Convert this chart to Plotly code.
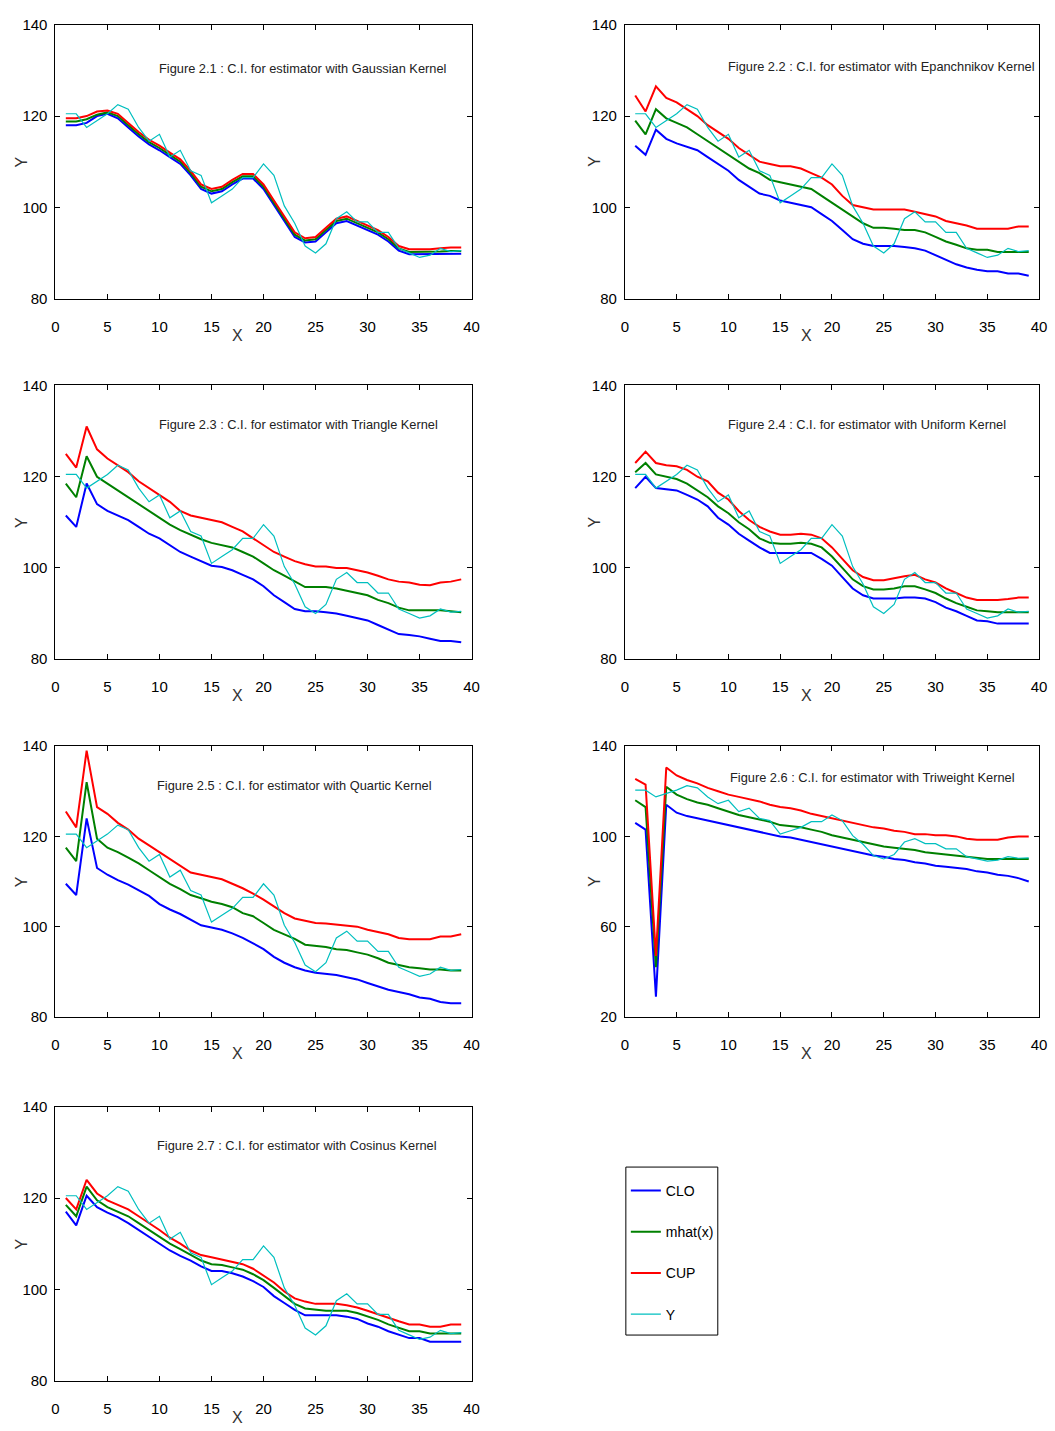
import plotly.graph_objects as go

W, H = 1055, 1431
FONT = "Liberation Sans, Arial, sans-serif"

x = list(range(1, 40))

Y = [120.5, 120.5, 117.5, 119, 120.5, 122.5, 121.5, 117.5, 114.5, 116,
     111, 112.5, 108, 107, 101, 102.5, 104, 106.5, 106.5, 109.5,
     107, 100.3, 96.5, 91.5, 90, 92, 97.5, 99, 96.8, 96.8,
     94.5, 94.5, 91, 90, 89, 89.5, 91, 90.3, 90.5]

gauss_clo = [118, 118, 118.5, 120, 120.5, 119.5, 117.5, 115.5, 113.8, 112.5,
             111, 109.5, 107, 104, 103, 103.5, 105, 106.3, 106.3, 104,
             100.5, 97, 93.5, 92.3, 92.5, 94.5, 96.5, 97, 96, 95,
             94, 92.5, 90.5, 89.7, 89.7, 89.7, 89.8, 89.8, 89.8]
gauss_mhat = [118.8, 118.8, 119.3, 120.3, 120.8, 120, 118, 116, 114.3, 113,
              111.5, 110, 107.5, 104.5, 103.5, 104, 105.5, 106.8, 106.8, 104.5,
              101, 97.5, 94, 92.7, 93, 95, 97, 97.5, 96.5, 95.5,
              94.5, 93, 91, 90.2, 90.2, 90.2, 90.3, 90.4, 90.4]
gauss_cup = [119.5, 119.5, 120, 121, 121.2, 120.5, 118.5, 116.5, 114.8, 113.5,
             112, 110.5, 108, 105, 104, 104.5, 106, 107.3, 107.3, 105,
             101.5, 98, 94.5, 93.2, 93.5, 95.5, 97.5, 98, 97, 96,
             95, 93.5, 91.5, 90.8, 90.8, 90.8, 91, 91.2, 91.2]

epan_clo = [113.5, 111.5, 117, 115, 114, 113.2, 112.5, 111, 109.5, 108,
            106, 104.5, 103, 102.5, 101.5, 101, 100.5, 100, 98.5, 97,
            95, 93, 92, 91.5, 91.5, 91.5, 91.3, 91, 90.5, 89.5,
            88.5, 87.5, 86.8, 86.3, 86, 86, 85.5, 85.5, 85]
epan_mhat = [119, 116, 121.5, 119.5, 118.5, 117.5, 116, 114.5, 113, 111.5,
             110, 108.5, 107.5, 106, 105.5, 105, 104.5, 104, 102.5, 101,
             99.5, 98, 96.5, 95.5, 95.5, 95.3, 95, 95, 94.5, 93.5,
             92.5, 91.8, 91, 90.7, 90.7, 90.2, 90.2, 90.2, 90.2]
epan_cup = [124.5, 121, 126.5, 124, 123, 121.5, 120, 118, 116.5, 115,
            113, 111.5, 110, 109.5, 109, 109, 108.5, 107.5, 106.5, 105,
            102.5, 100.5, 100, 99.5, 99.5, 99.5, 99.5, 99, 98.5, 98,
            97, 96.5, 96, 95.3, 95.3, 95.3, 95.3, 95.8, 95.8]

tri_clo = [111.5, 109, 118.5, 114, 112.5, 111.5, 110.5, 109, 107.5, 106.5,
           105, 103.5, 102.5, 101.5, 100.5, 100.2, 99.5, 98.5, 97.5, 96,
           94, 92.5, 91, 90.5, 90.5, 90.3, 90, 89.5, 89, 88.5,
           87.5, 86.5, 85.5, 85.3, 85, 84.5, 84, 84, 83.7]
tri_mhat = [118.5, 115.5, 124.5, 120, 118.5, 117, 115.5, 114, 112.5, 111,
            109.5, 108.3, 107.3, 106.3, 105.5, 105, 104.5, 103.5, 102.5, 101,
            99.5, 98.3, 97, 95.8, 95.8, 95.8, 95.5, 95, 94.5, 94,
            93, 92.3, 91.3, 90.7, 90.7, 90.7, 90.7, 90.5, 90.3]
tri_cup = [125, 122, 131, 126, 124, 122.5, 121, 119, 117.5, 116,
           114.5, 112.5, 111.5, 111, 110.5, 110, 109, 108, 106.5, 105,
           103.5, 102.5, 101.5, 100.8, 100.3, 100.3, 100, 100, 99.5, 99,
           98.3, 97.5, 97, 96.8, 96.3, 96.2, 96.8, 97, 97.5]

uni_clo = [117.5, 120, 117.5, 117.3, 117, 116, 115, 113.5, 111, 109.5,
           107.5, 106, 104.5, 103.3, 103.3, 103.3, 103.3, 103.3, 102, 100.5,
           98, 95.5, 94, 93.3, 93.3, 93.3, 93.5, 93.5, 93.3, 92.5,
           91.3, 90.5, 89.5, 88.5, 88.3, 87.8, 87.8, 87.8, 87.8]
uni_mhat = [121, 123, 120.5, 120, 119.5, 118.5, 117, 115.5, 113.5, 112,
            110, 108.5, 106.5, 105.5, 105.3, 105.3, 105.5, 105.3, 104.5, 102.5,
            100, 97.5, 96, 95.3, 95.3, 95.5, 96, 96, 95.3, 94.5,
            93.3, 92.3, 91.5, 90.7, 90.5, 90.3, 90.3, 90.3, 90.3]
uni_cup = [123, 125.5, 123, 122.5, 122.3, 121.5, 120, 119, 116.5, 115,
           112.5, 110.5, 109, 108, 107.3, 107.3, 107.5, 107.3, 106.5, 104.5,
           102, 99.5, 98, 97.3, 97.3, 97.8, 98.2, 98.5, 97.5, 96.8,
           95.5, 94.5, 93.5, 93, 93, 93, 93.2, 93.5, 93.5]

quar_clo = [109.5, 107, 124, 113, 111.5, 110.3, 109.3, 108, 106.8, 105,
            103.8, 102.8, 101.5, 100.3, 99.8, 99.3, 98.5, 97.5, 96.3, 95,
            93.3, 92, 91, 90.3, 89.8, 89.5, 89.3, 88.8, 88.3, 87.5,
            86.8, 86, 85.5, 85, 84.3, 84, 83.3, 83, 83]
quar_mhat = [117.5, 114.5, 132, 119.5, 117.5, 116.5, 115.3, 114, 112.5, 111,
             109.5, 108.3, 107, 106.3, 105.5, 105, 104.3, 103, 102.3, 100.8,
             99.3, 98.3, 97.3, 96, 95.8, 95.5, 95, 94.8, 94.3, 93.8,
             93, 92, 91.5, 91, 90.8, 90.5, 90.5, 90.3, 90.3]
quar_cup = [125.5, 122, 139, 126.5, 125, 123, 121.5, 119.5, 118, 116.5,
            115, 113.5, 112, 111.5, 111, 110.5, 109.5, 108.5, 107.3, 106,
            104.5, 103, 101.8, 101.3, 100.8, 100.7, 100.5, 100.3, 100, 99.3,
            98.8, 98.3, 97.5, 97.2, 97.2, 97.2, 97.8, 97.8, 98.3]

triw_clo = [106, 103, 29, 114, 110.5, 109, 108, 107, 106, 105,
            104, 103, 102, 101, 100, 99.5, 98.5, 97.5, 96.5, 95.5,
            94.5, 93.5, 92.5, 91.5, 91, 90, 89.5, 88.5, 88, 87,
            86.5, 86, 85.5, 84.5, 84, 83, 82.5, 81.5, 80]
triw_mhat = [116, 113, 42, 122, 118.5, 116.5, 115, 114, 112.5, 111,
             109.5, 108.5, 107.5, 106.5, 105, 104.5, 104, 103, 102, 100.5,
             99.5, 98.5, 97.5, 96.5, 95.5, 95, 94.5, 94, 93, 92.5,
             92, 91.5, 91, 90.5, 90, 90, 90, 90, 90]
triw_cup = [125.5, 123, 47, 130.5, 127, 125, 123.5, 121.5, 120, 118.5,
            117.5, 116.5, 115.5, 114, 113, 112.5, 111.5, 110, 109, 108,
            107, 106, 105, 104, 103.5, 102.5, 102, 101, 101, 100.5,
            100.5, 100, 99, 98.5, 98.5, 98.5, 99.5, 100, 100]

cos_clo = [117, 114, 120.5, 118, 116.8, 115.8, 114.5, 113, 111.5, 110,
           108.5, 107.3, 106.3, 105, 104, 104, 103.5, 102.8, 101.8, 100.5,
           98.5, 97, 95.5, 94.3, 94.3, 94.3, 94.3, 94, 93.5, 92.5,
           91.8, 90.8, 90, 89.3, 89.3, 88.5, 88.5, 88.5, 88.5]
cos_mhat = [118.5, 116, 122.5, 119.5, 118, 117, 116, 114.5, 113, 111.5,
            110, 108.8, 107.5, 106.3, 105.5, 105.3, 104.8, 104.3, 103.3, 102,
            100.3, 98.5, 96.8, 95.8, 95.5, 95.3, 95.3, 95.3, 94.8, 94,
            93.3, 92.3, 91.5, 90.8, 90.8, 90.3, 90.3, 90.3, 90.3]
cos_cup = [120, 117.5, 124, 121, 119.5, 118.5, 117.5, 116, 114.5, 113,
           111.3, 110, 108.5, 107.5, 107, 106.5, 106, 105.5, 104.5, 103,
           101.5, 99.5, 98, 97.3, 96.8, 96.8, 96.8, 96.5, 96, 95.3,
           94.5, 93.8, 93, 92.3, 92.3, 91.8, 91.8, 92.3, 92.3]

titles = [
    "Figure 2.1 : C.I. for estimator with Gaussian Kernel",
    "Figure 2.2 : C.I. for estimator with Epanchnikov Kernel",
    "Figure 2.3 : C.I. for estimator with Triangle Kernel",
    "Figure 2.4 : C.I. for estimator with Uniform Kernel",
    "Figure 2.5 : C.I. for estimator with Quartic Kernel",
    "Figure 2.6 : C.I. for estimator with Triweight Kernel",
    "Figure 2.7 : C.I. for estimator with Cosinus Kernel",
]
series = [
    (gauss_clo, gauss_mhat, gauss_cup),
    (epan_clo, epan_mhat, epan_cup),
    (tri_clo, tri_mhat, tri_cup),
    (uni_clo, uni_mhat, uni_cup),
    (quar_clo, quar_mhat, quar_cup),
    (triw_clo, triw_mhat, triw_cup),
    (cos_clo, cos_mhat, cos_cup),
]
y_ranges = [[80, 140]] * 5 + [[20, 140]] + [[80, 140]]
y_ticks = [[80, 100, 120, 140]] * 5 + [[20, 60, 100, 140]] + [[80, 100, 120, 140]]
x_ticks = [0, 5, 10, 15, 20, 25, 30, 35, 40]

names = ["CLO", "mhat(x)", "CUP", "Y"]
colors = ["#0000FF", "#008000", "#FF0000", "#00BFBF"]
widths = [2, 2, 2, 1.2]

# layout geometry (pixels)
cols_px = [(52, 473), (628, 1047)]
rows_px = [(16, 293), (381, 658), (746, 1020), (1111, 1388)]
title_pos = [(155, 60), (730, 58), (155, 420), (730, 420), (153, 786), (732, 778), (153, 1150)]
ylab_x = [18, 597]

fig = go.Figure()
annotations = []
layout_axes = {}

for i in range(7):
    r, c = divmod(i, 2)
    n = i + 1
    xa = "x" if n == 1 else f"x{n}"
    ya = "y" if n == 1 else f"y{n}"
    clo, mhat, cup = series[i]
    for k, vals in enumerate([clo, mhat, cup, Y]):
        fig.add_trace(go.Scatter(
            x=x, y=vals, mode="lines", name=names[k],
            line=dict(color=colors[k], width=widths[k]),
            xaxis=xa, yaxis=ya, showlegend=(i == 0), legendgroup=names[k],
            hoverinfo="skip"))
    x0, x1 = cols_px[c]
    t0, t1 = rows_px[r]
    common = dict(showline=True, linecolor="black", linewidth=1, mirror="ticks",
                  ticks="inside", ticklen=5, tickcolor="black", showgrid=False,
                  zeroline=False, tickfont=dict(family=FONT, size=15, color="black"))
    layout_axes[f"xaxis{'' if n == 1 else n}"] = dict(
        domain=[x0 / W, x1 / W], anchor=ya, range=[0, 40], tickvals=x_ticks,
        ticklabelstandoff=14, **common)
    layout_axes[f"yaxis{'' if n == 1 else n}"] = dict(
        domain=[1 - t1 / H, 1 - t0 / H], anchor=xa, range=y_ranges[i],
        tickvals=y_ticks[i], ticklabelstandoff=4, **common)
    tx, ty = title_pos[i]
    annotations.append(dict(text=titles[i], xref="paper", yref="paper",
                            x=tx / W, y=1 - ty / H, xanchor="left", yanchor="middle",
                            showarrow=False, font=dict(family=FONT, size=12.8, color="#222222")))
    annotations.append(dict(text="X", xref=xa, yref="paper", x=17.5,
                            y=1 - (t1 + 37) / H, xanchor="center", yanchor="middle",
                            showarrow=False, font=dict(family=FONT, size=16, color="#333333")))
    annotations.append(dict(text="Y", xref="paper", yref="paper", x=ylab_x[c] / W,
                            y=1 - ((t0 + t1) / 2) / H, xanchor="center", yanchor="middle",
                            textangle=-90, showarrow=False,
                            font=dict(family=FONT, size=16, color="#333333")))

# legend frame
shapes = [dict(type="rect", xref="paper", yref="paper",
               x0=629 / W, x1=722 / W, y0=1 - 1342 / H, y1=1 - 1172 / H,
               line=dict(color="black", width=1), fillcolor="rgba(0,0,0,0)")]

fig.update_layout(
    width=W, height=H, margin=dict(l=0, r=0, t=0, b=0, pad=0),
    paper_bgcolor="white", plot_bgcolor="white",
    annotations=annotations, shapes=shapes,
    legend=dict(x=629 / W, y=1 - 1180 / H, xanchor="left", yanchor="top",
                borderwidth=0, bgcolor="rgba(0,0,0,0)",
                font=dict(family=FONT, size=14, color="black"),
                tracegroupgap=20, itemwidth=30),
    **layout_axes,
)

fig.write_html("out.html", config={"displayModeBar": False},
               post_script="document.body.style.margin='0px';document.body.style.overflow='hidden';")
